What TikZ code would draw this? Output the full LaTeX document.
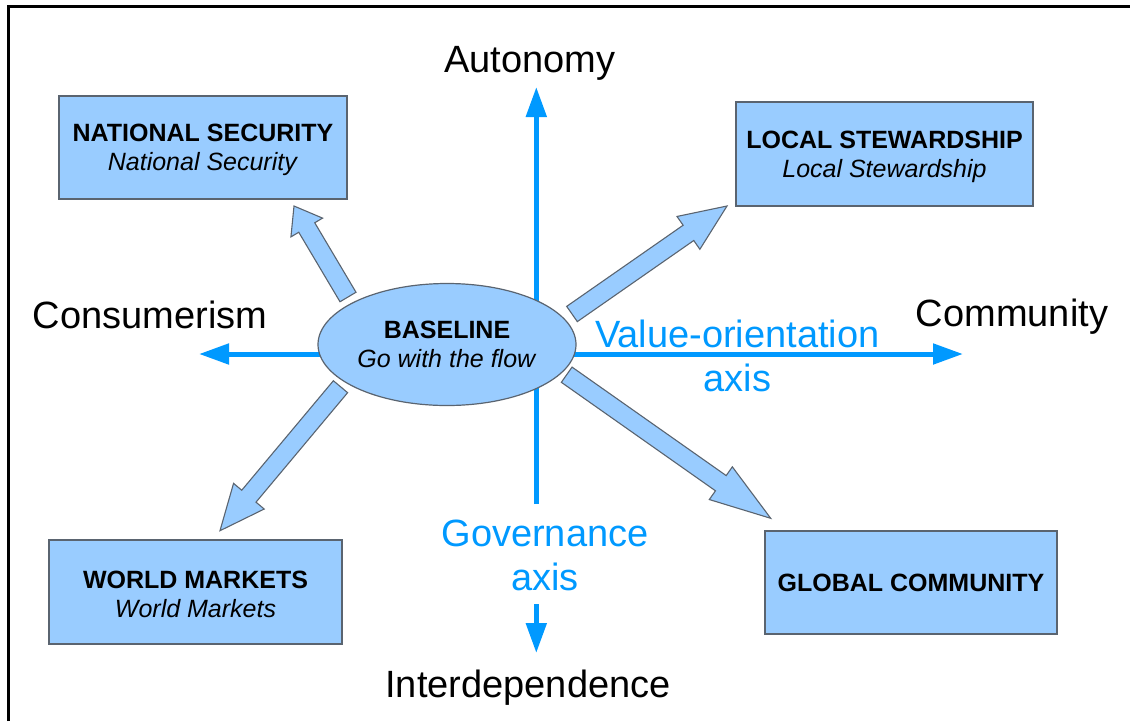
\documentclass[tikz,border=0pt]{standalone}
\usepackage{fontspec}
\setmainfont{Liberation Sans}
\usetikzlibrary{arrows.meta,calc,shapes.geometric}
\definecolor{boxfill}{HTML}{99CCFF}
\definecolor{boxline}{HTML}{5A6470}
\definecolor{axisblue}{HTML}{0099FF}
\newcommand{\mytopstrut}{\rule{0pt}{23pt}}
% tail, tip, shaft half width, head half width, head length
\newcommand{\fatarrow}[5]{%
  \coordinate (fa-b) at ($(#2)!#5!(#1)$);
  \filldraw[blockarrow] ($(#1)!#3!90:(#2)$) -- ($(fa-b)!#3!90:(#2)$) -- ($(fa-b)!#4!90:(#2)$) -- (#2)
    -- ($(fa-b)!#4!-90:(#2)$) -- ($(fa-b)!#3!-90:(#2)$) -- ($(#1)!#3!-90:(#2)$) -- cycle;
}
\begin{document}
\begin{tikzpicture}[x=1pt,y=-1pt,
  scenbox/.style={draw=boxline, line width=1.4pt, fill=boxfill, rectangle, inner sep=0pt,
    align=center, font=\fontsize{25}{29}\selectfont},
  baseell/.style={draw=boxline, line width=1.2pt, fill=boxfill, ellipse, inner sep=0pt,
    align=center, font=\fontsize{25}{29}\selectfont},
  blockarrow/.style={draw=boxline, line width=1.1pt, fill=boxfill, line join=miter},
  axisline/.style={draw=axisblue, line width=5pt},
  axistip/.style={-{Triangle[length=30pt,width=20pt]}},
  endlabel/.style={font=\fontsize{38}{44}\selectfont, text=black, inner sep=0pt},
  axislabel/.style={font=\fontsize{38}{44}\selectfont, text=axisblue, align=center, inner sep=0pt}
]
\useasboundingbox (0,0) rectangle (1130,721);
% outer frame (partly cropped)
\draw[line width=3pt] (8.5,721) -- (8.5,6) -- (1130,6);

% axes
\coordinate (axTop) at (536.3,87);
\coordinate (axBot) at (536.3,653);
\coordinate (govTop) at (536.3,504);
\coordinate (govBot) at (536.3,604);
\coordinate (axL) at (199,354);
\coordinate (axR) at (963,354);
\draw[axisline, axistip] (govTop) -- (axTop);
\draw[axisline, axistip] (govBot) -- (axBot);
\draw[axisline, {Triangle[length=30pt,width=20pt]}-{Triangle[length=30pt,width=20pt]}] (axL) -- (axR);

% axis labels
\node[endlabel, anchor=base] (auton) at (530,72) {Autonomy};
\node[endlabel, anchor=base] (consum) at (150,328.5) {Consumerism};
\node[endlabel, anchor=base] (commun) at (1012,326.5) {Community};
\node[endlabel, anchor=base] (interd) at (528,697) {Interdependence};
\node[axislabel] (valax) at (737.3,356) {Value-orientation\\axis};
\node[axislabel] (govax) at (545,555.5) {Governance\\axis};

% block arrows
\coordinate (nsT) at (348,297);   \coordinate (nsP) at (294,206);
\coordinate (lsT) at (572,314);   \coordinate (lsP) at (727,206);
\coordinate (gcT) at (566.7,374.7); \coordinate (gcP) at (770.7,518.3);
\coordinate (wmT) at (340.5,386.7); \coordinate (wmP) at (220,530.7);
\fatarrow{nsT}{nsP}{9.3pt}{18.4pt}{25pt}
\fatarrow{lsT}{lsP}{9.3pt}{20pt}{47pt}
\fatarrow{gcT}{gcP}{9.3pt}{20pt}{61pt}
\fatarrow{wmT}{wmP}{9.3pt}{20pt}{45pt}

% central ellipse
\node[baseell, minimum width=258pt, minimum height=122pt] (base) at (447,344.5)
  {\textbf{BASELINE}\\\textit{Go with the flow}};

% scenario boxes
\node[scenbox, minimum width=288pt, minimum height=103pt] (natsec) at (203,147.5)
  {\mytopstrut\textbf{NATIONAL SECURITY}\\\textit{National Security}};
\node[scenbox, minimum width=297pt, minimum height=104pt] (localst) at (884.5,154)
  {\mytopstrut\textbf{LOCAL STEWARDSHIP}\\\textit{Local Stewardship}};
\node[scenbox, minimum width=293pt, minimum height=104pt] (worldm) at (195.5,592)
  {\mytopstrut\textbf{WORLD MARKETS}\\\textit{World Markets}};
\node[scenbox, minimum width=292pt, minimum height=103pt] (globalc) at (911,582.5)
  {\textbf{GLOBAL COMMUNITY}};
\end{tikzpicture}
\end{document}
